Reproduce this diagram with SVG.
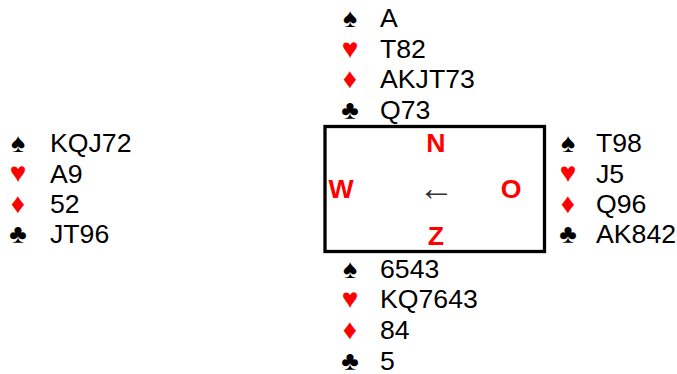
<svg xmlns="http://www.w3.org/2000/svg" width="677" height="374" viewBox="0 0 677 374">
<style>
text{font-family:"Liberation Sans",Arial,sans-serif;font-size:26.67px;fill:#000}
.s{text-anchor:middle}
.r{fill:#f00;font-size:28px}
.b{font-weight:bold;fill:#f00;text-anchor:middle}
</style>
<rect width="677" height="374" fill="#fff"/>
<g id="north"><text class="s" x="350" y="27">♠</text><text x="380" y="27">A</text><text class="s r" x="350" y="58">♥</text><text x="380" y="58">T82</text><text class="s r" x="350" y="88">♦</text><text x="380" y="88">AKJT73</text><text class="s" x="350" y="119">♣</text><text x="380" y="119">Q73</text></g>
<g id="west"><text class="s" x="18" y="151.500">♠</text><text x="50" y="151.500">KQJ72</text><text class="s r" x="18" y="182">♥</text><text x="50" y="182.500">A9</text><text class="s r" x="18" y="213">♦</text><text x="50" y="213">52</text><text class="s" x="18" y="243">♣</text><text x="50" y="243">JT96</text></g>
<g id="east"><text class="s" x="568" y="151.500">♠</text><text x="596" y="151.500">T98</text><text class="s r" x="568" y="182">♥</text><text x="596" y="182.500">J5</text><text class="s r" x="568" y="213">♦</text><text x="596" y="213">Q96</text><text class="s" x="568" y="243">♣</text><text x="596" y="243">AK842</text></g>
<g id="south"><text class="s" x="350" y="278">♠</text><text x="380" y="278">6543</text><text class="s r" x="350" y="308">♥</text><text x="380" y="308">KQ7643</text><text class="s r" x="350" y="339">♦</text><text x="380" y="339">84</text><text class="s" x="350" y="370">♣</text><text x="380" y="370">5</text></g>
<g id="table"><rect x="325" y="126.500" width="219.500" height="125" fill="#fff" stroke="#000" stroke-width="3.300"/>
<text class="b" x="436" y="152">N</text><text class="b" x="341" y="198">W</text><text class="b" x="511" y="198">O</text><text class="b" x="436" y="245">Z</text>
<text x="436.500" y="200" style="font-family:'Liberation Serif',serif;font-size:36px;text-anchor:middle;fill:#333">←</text></g>
</svg>
